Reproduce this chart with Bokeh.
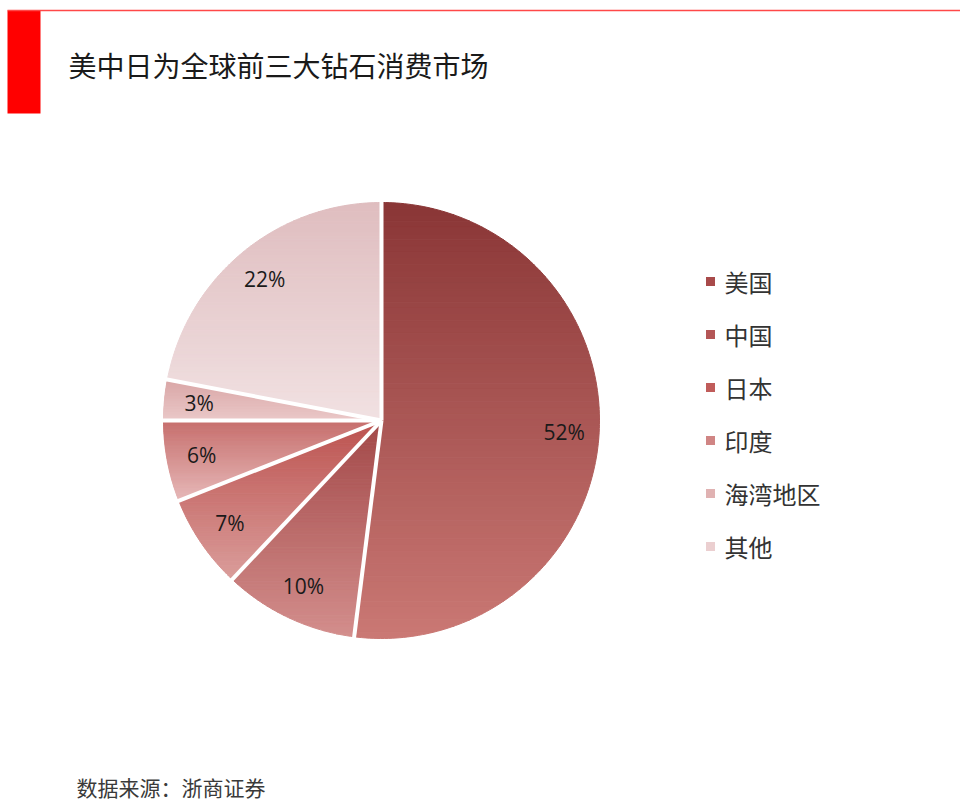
import numpy as np
from bokeh.plotting import figure
from bokeh.models import Range1d
from bokeh.core.properties import value
from bokeh.embed import file_html
from bokeh.resources import INLINE

# ---------------- data ----------------
title_text = "美中日为全球前三大钻石消费市场"
source_text = "数据来源：浙商证券"
regions = ["美国", "中国", "日本", "印度", "海湾地区", "其他"]
shares = [52, 10, 7, 6, 3, 22]
share_labels = ["52%", "10%", "7%", "6%", "3%", "22%"]

# ---------------- styles ----------------
top_colors = ["#8A3636", "#A24848", "#BC524F", "#C66E6C", "#D9A6A6", "#DFBDBF"]
bottom_colors = ["#CA7874", "#D38E8C", "#DA9D9B", "#E6B8B8", "#EAC8C8", "#F1E1E2"]
legend_colors = ["#A84A4A", "#B45656", "#C05C5A", "#D08584", "#E0B2B2", "#EBCFD0"]

W, H = 960, 812
p = figure(width=W, height=H, x_range=Range1d(0, W), y_range=Range1d(H, 0),
           output_backend="svg", toolbar_location=None, min_border=0,
           x_axis_type=None, y_axis_type=None)
p.grid.visible = False
p.outline_line_color = None
p.background_fill_color = "white"
p.border_fill_color = "white"

# header decoration
p.quad(left=[7], right=[40], top=[10], bottom=[113], fill_color="#FF0000", line_color=None)
p.segment(x0=[7], y0=[10], x1=[960], y1=[10], line_color="#FF4848", line_width=1.5)
p.text(x=[68], y=[64], text=[title_text], text_font=value("Noto Sans CJK SC"),
       text_font_size="28px", text_color="#1A1A1A", text_baseline="middle", text_align="left")

# ---------------- pie ----------------
cx, cy, R = 381, 420, 218


def pt(theta_deg, r):
    t = np.deg2rad(theta_deg)
    return (cx + r * np.cos(t), cy - r * np.sin(t))


def clip(poly, yv, keep_ge):
    out = []
    n = len(poly)
    def inside(q):
        return q[1] >= yv if keep_ge else q[1] <= yv
    for i in range(n):
        a = poly[i - 1]
        b = poly[i]
        ia, ib = inside(a), inside(b)
        if ib:
            if not ia:
                t = (yv - a[1]) / (b[1] - a[1])
                out.append((a[0] + t * (b[0] - a[0]), yv))
            out.append(b)
        elif ia:
            t = (yv - a[1]) / (b[1] - a[1])
            out.append((a[0] + t * (b[0] - a[0]), yv))
    return out


def hex2rgb(h):
    h = h.lstrip("#")
    return np.array([int(h[i:i + 2], 16) for i in (0, 2, 4)], dtype=float)


def rgb2hex(c):
    return "#%02x%02x%02x" % tuple(int(round(v)) for v in c)


total = float(sum(shares))
start = 90.0
bounds = []
xs_all, ys_all, cols_all = [], [], []
label_x, label_y = [], []
for i, v in enumerate(shares):
    sweep = 360.0 * v / total
    end = start - sweep
    steps = max(4, int(sweep))
    angs = np.linspace(start, end, steps + 1)
    poly = [(cx, cy)] + [pt(a, R) for a in angs]
    ys = [q[1] for q in poly]
    y0, y1 = min(ys), max(ys)
    nb = 70
    edges = np.linspace(y0, y1, nb + 1)
    c0, c1 = hex2rgb(top_colors[i]), hex2rgb(bottom_colors[i])
    for b in range(nb):
        band = clip(poly, edges[b], True)
        if len(band) < 3:
            continue
        band = clip(band, edges[b + 1], False)
        if len(band) < 3:
            continue
        f = (b + 0.5) / nb
        xs_all.append([q[0] for q in band])
        ys_all.append([q[1] for q in band])
        cols_all.append(rgb2hex(c0 + (c1 - c0) * f))
    mid = (start + end) / 2.0
    lx, ly = pt(mid, 0.84 * R)
    label_x.append(lx)
    label_y.append(ly)
    bounds.append(start)
    start = end

p.patches(xs=xs_all, ys=ys_all, fill_color=cols_all, line_color=cols_all, line_width=1)

# white separators
sx0, sy0, sx1, sy1 = [], [], [], []
for a in bounds:
    ex, ey = pt(a, R + 3)
    sx0.append(cx); sy0.append(cy); sx1.append(ex); sy1.append(ey)
p.segment(x0=sx0, y0=sy0, x1=sx1, y1=sy1, line_color="white", line_width=4)

p.text(x=label_x, y=label_y, text=share_labels, text_font=value("Open Sans"),
       text_font_size="21px", text_color="#1A1A1A", text_align="center", text_baseline="middle")

# ---------------- legend ----------------
leg_y = [281 + 53 * i for i in range(len(regions))]
p.scatter(x=[710] * len(regions), y=leg_y, marker="square", size=9,
          fill_color=legend_colors, line_color=None)
p.text(x=[724] * len(regions), y=leg_y, text=regions, text_font=value("Noto Sans CJK SC"),
       text_font_size="24px", text_color="#333333", text_align="left", text_baseline="middle")

# source note
p.text(x=[76], y=[786], text=[source_text], text_font=value("Noto Sans CJK SC"),
       text_font_size="21px", text_color="#3A3A3A", text_align="left", text_baseline="middle")

open("out.html", "w").write(file_html(p, INLINE))
